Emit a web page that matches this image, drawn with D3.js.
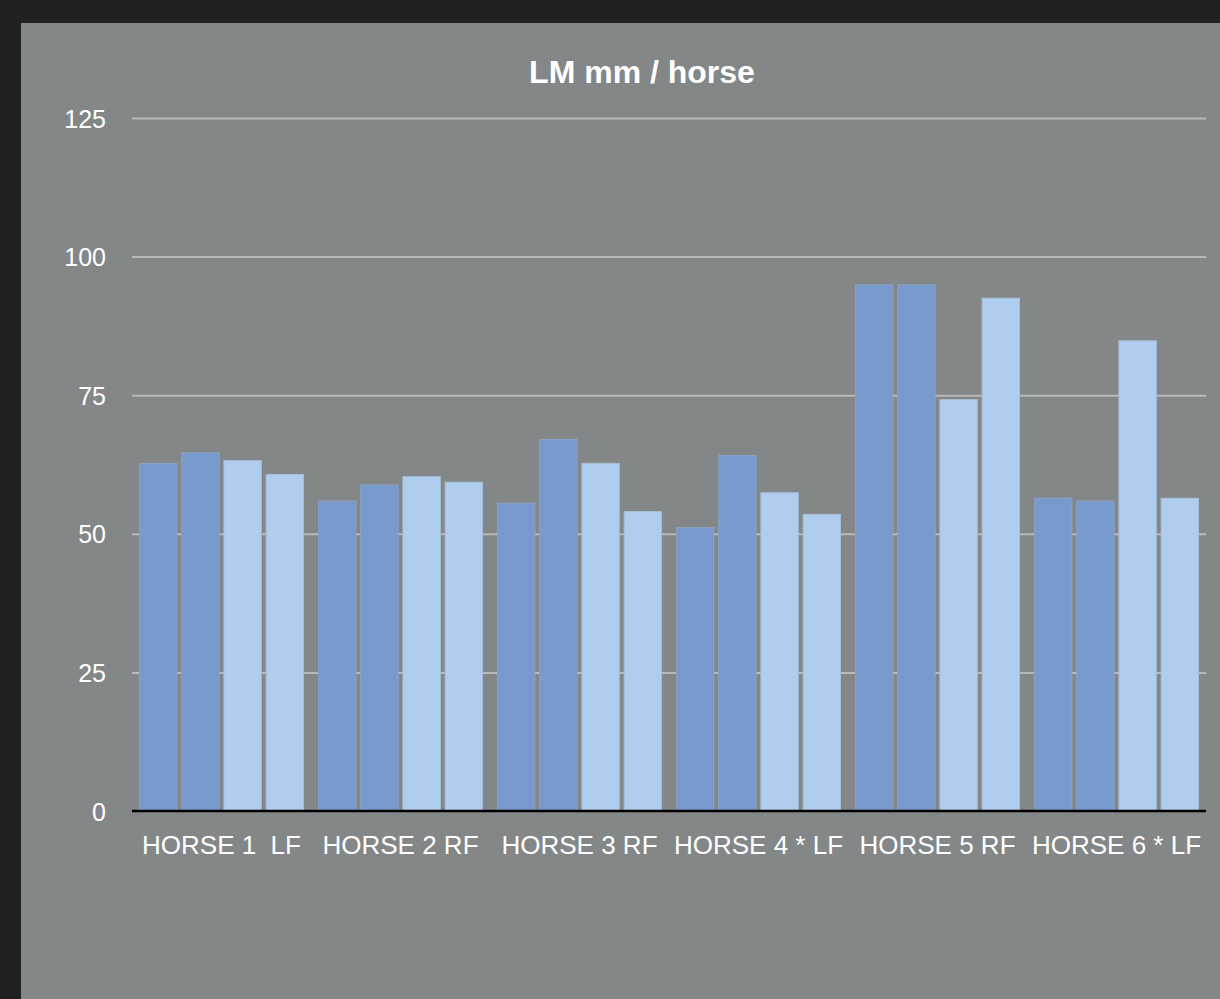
<!DOCTYPE html>
<html>
<head>
<meta charset="utf-8">
<script src="https://cdn.jsdelivr.net/npm/d3@7"></script>
<style>
  html, body { margin: 0; padding: 0; background: #212121; }
  svg { display: block; }
  text { font-family: "Liberation Sans", Arial, Helvetica, sans-serif; }
</style>
</head>
<body>
<svg id="chart" width="1220" height="999"></svg>
<script>
const categories = ["HORSE 1  LF", "HORSE 2 RF", "HORSE 3 RF", "HORSE 4 * LF", "HORSE 5 RF", "HORSE 6 * LF"];
const seriesNames = ["Series 1", "Series 2", "Series 3", "Series 4"];
const series1 = [62.8, 56.0, 55.6, 51.2, 95.0, 56.5];
const series2 = [64.7, 58.9, 67.1, 64.2, 95.0, 56.0];
const series3 = [63.3, 60.4, 62.8, 57.5, 74.3, 84.9];
const series4 = [60.8, 59.4, 54.1, 53.6, 92.6, 56.5];
const yTicks = [0, 25, 50, 75, 100, 125];
const title = "LM mm / horse";

const allSeries = [series1, series2, series3, series4];
const colors = ["#7799cc", "#7799cc", "#afcdee", "#afcdee"];
const strokes = ["#8aa2c4", "#8aa2c4", "#a7bed6", "#a7bed6"];

const svg = d3.select("#chart");

// panel
svg.append("rect").attr("x", 21).attr("y", 23).attr("width", 1199).attr("height", 976).attr("fill", "#838787");

const x0 = d3.scaleBand().domain(categories).range([132, 1206]).paddingInner(0.078).paddingOuter(0.039);
const x1 = d3.scaleBand().domain(seriesNames).range([0, x0.bandwidth()]).paddingInner(0.09).paddingOuter(0);
const y = d3.scaleLinear().domain([0, 125]).range([811, 118]);

// gridlines
const yAxis = d3.axisLeft(y).tickValues(yTicks).tickSize(-(1206 - 132)).tickPadding(26).tickFormat(d3.format("d"));
const gy = svg.append("g").attr("transform", "translate(132,0)").call(yAxis);
gy.select(".domain").remove();
gy.selectAll(".tick line").attr("stroke", d => d === 0 ? "none" : "#b8b9b9").attr("stroke-width", 2);
gy.selectAll(".tick text").attr("fill", "#ffffff").attr("font-size", 25).attr("dy", "0.36em").attr("x", -26);

// bars
const groups = svg.append("g").selectAll("g").data(categories).join("g")
  .attr("transform", d => `translate(${x0(d)},0)`);
groups.selectAll("rect").data((d, i) => allSeries.map((s, j) => ({ key: seriesNames[j], value: s[i], j })))
  .join("rect")
  .attr("x", d => x1(d.key) + 0.5)
  .attr("width", x1.bandwidth() - 1)
  .attr("y", d => y(d.value) + 0.5)
  .attr("height", d => y(0) - y(d.value) - 0.5)
  .attr("fill", d => colors[d.j])
  .attr("stroke", d => strokes[d.j])
  .attr("stroke-width", 1);

// baseline
const xAxis = d3.axisBottom(x0).tickSize(0).tickPadding(35);
const gx = svg.append("g").attr("transform", `translate(0,${y(0)})`).call(xAxis);
gx.select(".domain").attr("stroke", "#000000").attr("stroke-width", 2.5).attr("d", "M132,0H1206");
gx.selectAll(".tick text").attr("fill", "#ffffff").attr("font-size", 26)
  .attr("dy", "0.32em").style("white-space", "pre").attr("xml:space", "preserve");

// title
svg.append("text").attr("x", 642).attr("y", 83).attr("text-anchor", "middle")
  .attr("fill", "#ffffff").attr("font-size", 32).attr("font-weight", "bold").text(title);
</script>
</body>
</html>
